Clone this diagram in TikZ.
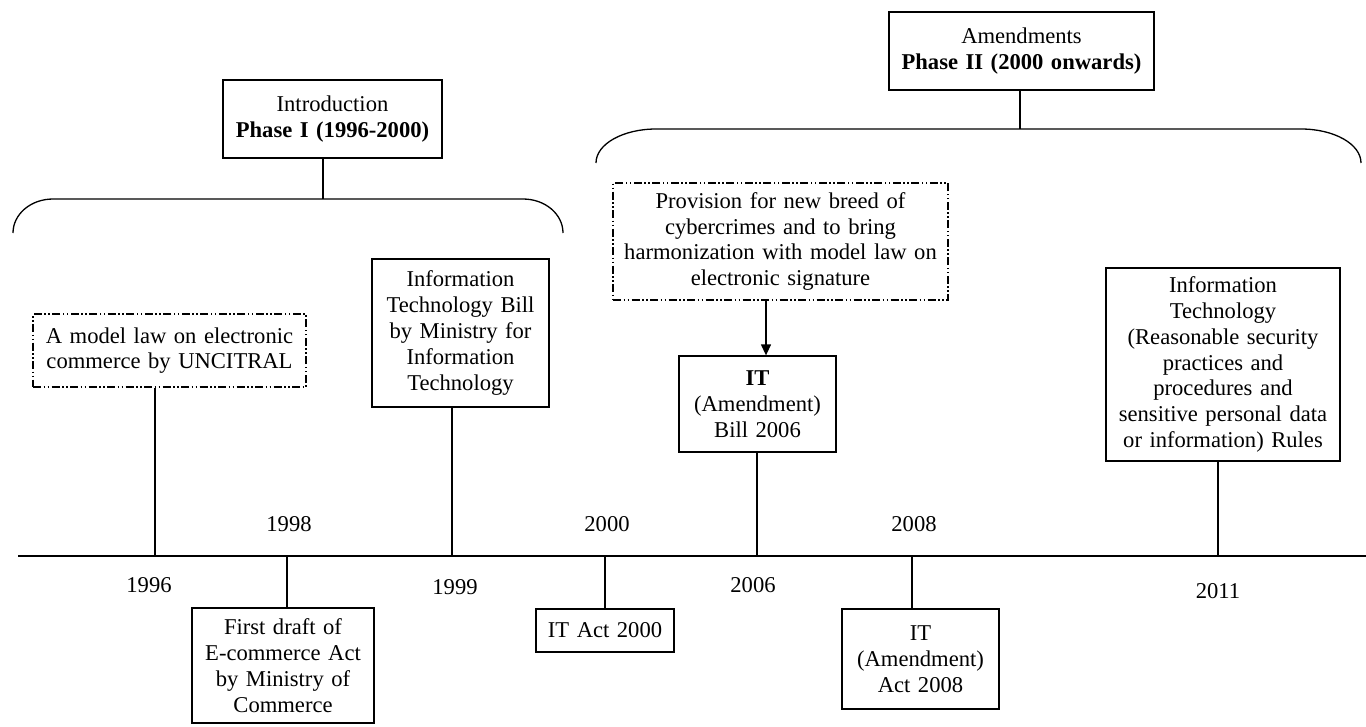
\documentclass[tikz,border=0pt]{standalone}
\usepackage{fontspec}
\setmainfont{Liberation Serif}
\usetikzlibrary{arrows.meta}

\tikzset{
  box/.style={draw, line width=1.3pt, inner sep=0pt, align=center,
    font=\fontsize{22.6}{25.8}\selectfont},
  dashbox/.style={box, line width=1.2pt,
    dash pattern=on 8pt off 2.5pt on 1.5pt off 2.5pt on 1.5pt off 2.5pt},
  year/.style={inner sep=0pt, font=\fontsize{22.6}{25.8}\selectfont},
  link/.style={line width=1.3pt},
}

\begin{document}
\begin{tikzpicture}[x=1pt,y=-1pt,>={Triangle[length=11pt,width=10pt]}]
  \useasboundingbox (0,0) rectangle (1366,726);
  % phase headings
  \node[box, text width=219pt, minimum height=78pt] (ph1) at (332.5,119)
    {Introduction\\\textbf{Phase I (1996-2000)}};
  \node[box, text width=265pt, minimum height=78pt] (ph2) at (1021.5,51)
    {Amendments\\\textbf{Phase II (2000 onwards)}};
  % phase I brace
  \coordinate (br1) at (323,199);
  \draw[link] (13,233) .. controls (13,214) and (31,199) .. (53,199) -- (523,199)
    .. controls (545,199) and (563,214) .. (563,233);
  \draw[link] (ph1.south -| br1) -- (br1);
  % phase II brace
  \coordinate (br2) at (1020,129);
  \draw[link] (596,163) .. controls (596,144) and (623,129) .. (656,129) -- (1301,129)
    .. controls (1334,129) and (1361,144) .. (1361,163);
  \draw[link] (ph2.south -| br2) -- (br2);
  % events above the line
  \node[dashbox, text width=273pt, minimum height=73pt] (uncitral) at (169.5,350.5)
    {A model law on electronic\\commerce by UNCITRAL};
  \node[box, text width=177pt, minimum height=148pt] (bill99) at (460.5,333)
    {Information\\Technology Bill\\by Ministry for\\Information\\Technology};
  \node[dashbox, text width=335pt, minimum height=117pt] (prov) at (780.5,241.5)
    {Provision for new breed of\\cybercrimes and to bring\\harmonization with model law on\\electronic signature};
  \node[box, text width=157pt, minimum height=96pt] (bill06) at (757.5,404)
    {\textbf{IT}\\(Amendment)\\Bill 2006};
  \node[box, text width=234pt, minimum height=193pt] (rules) at (1223,364.5)
    {Information\\Technology\\(Reasonable security\\practices and\\procedures and\\sensitive personal data\\or information) Rules};
  % events below the line
  \node[box, text width=182pt, minimum height=115pt] (draft) at (283,665.5)
    {First draft of\\E-commerce Act\\by Ministry of\\Commerce};
  \node[box, text width=138pt, minimum height=43pt] (act00) at (605,630.5)
    {IT Act 2000};
  \node[box, text width=157pt, minimum height=100pt] (act08) at (920.5,659)
    {IT\\(Amendment)\\Act 2008};
  % time line
  \coordinate (tlw) at (18,556);
  \coordinate (tle) at (1366,556);
  \draw[link] (tlw) -- (tle);
  \coordinate (t96) at (155,556);
  \coordinate (t98) at (287,556);
  \coordinate (t99) at (452,556);
  \coordinate (t00) at (605,556);
  \coordinate (t06) at (757,556);
  \coordinate (t08) at (912,556);
  \coordinate (t11) at (1218,556);
  \draw[link] (uncitral.south -| t96) -- (t96);
  \draw[link] (draft.north -| t98) -- (t98);
  \draw[link] (bill99.south -| t99) -- (t99);
  \draw[link] (act00.north -| t00) -- (t00);
  \draw[link] (bill06.south -| t06) -- (t06);
  \draw[link] (act08.north -| t08) -- (t08);
  \draw[link] (rules.south -| t11) -- (t11);
  % arrow into the 2006 bill
  \coordinate (ar) at (766,0);
  \draw[link,->] (prov.south -| ar) -- (bill06.north -| ar);
  % years
  \node[year] (y96) at (149,585) {1996};
  \node[year] (y98) at (289,524) {1998};
  \node[year] (y99) at (455,587) {1999};
  \node[year] (y00) at (607,524) {2000};
  \node[year] (y06) at (753,585) {2006};
  \node[year] (y08) at (914,524) {2008};
  \node[year] (y11) at (1218,591) {2011};
\end{tikzpicture}
\end{document}
